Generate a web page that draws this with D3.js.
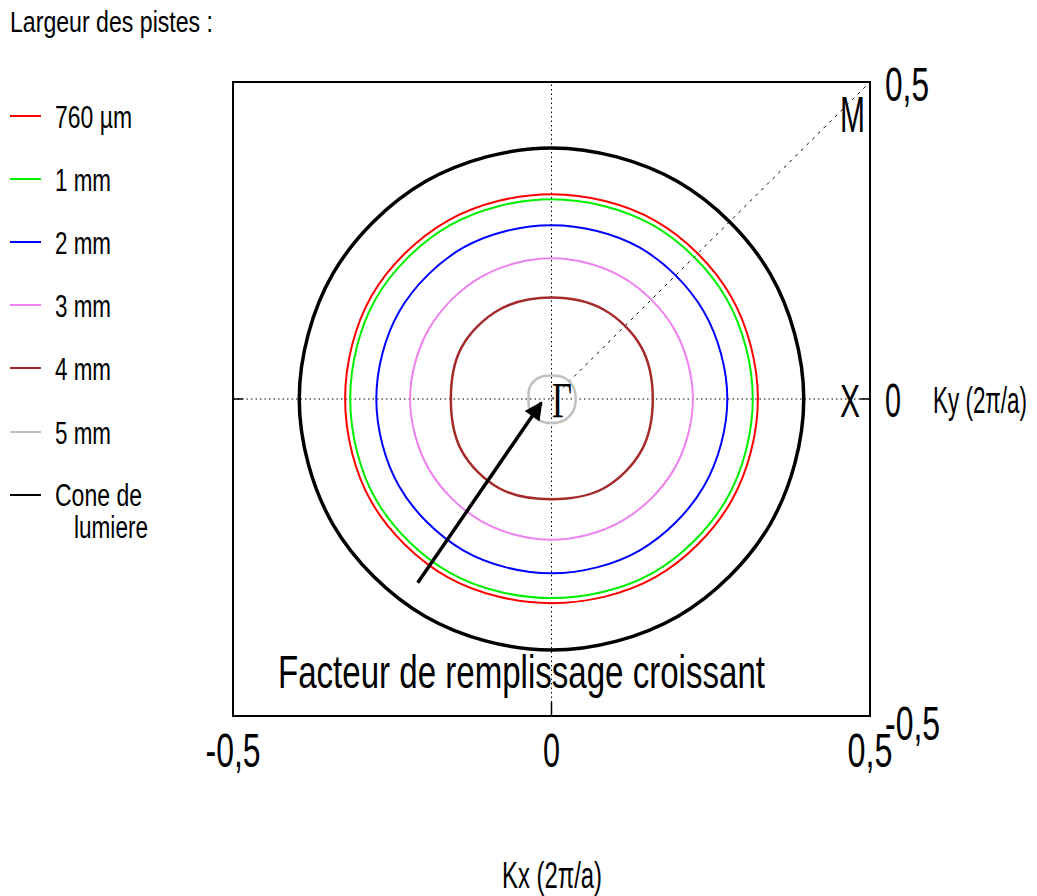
<!DOCTYPE html>
<html>
<head>
<meta charset="utf-8">
<script src="https://cdn.jsdelivr.net/npm/d3@7/dist/d3.min.js"></script>
<style>
  html, body { margin: 0; padding: 0; background: #fff; }
  svg { display: block; }
  text { font-family: "Liberation Sans", Arial, sans-serif; fill: #000; }
</style>
</head>
<body>
<svg id="chart" width="1037" height="896"></svg>
<script>
// Iso-frequency contours in the (Kx, Ky) plane, in units of 2π/a.
// Each contour: radius |k| sampled every 30° from 0° to 330°.
const angles = [0, 30, 60, 90, 120, 150, 180, 210, 240, 270, 300, 330];

const series = ["760 µm", "1 mm", "2 mm", "3 mm", "4 mm", "5 mm", "Cone de lumiere"];
const colors = ["#ff0000", "#00ee00", "#0000ff", "#ee82ee", "#a52a2a", "#c0c0c0", "#000000"];

const r760 = [0.324, 0.325, 0.325, 0.323, 0.325, 0.326, 0.324, 0.326, 0.325, 0.322, 0.325, 0.325];
const r1mm = [0.316, 0.317, 0.317, 0.315, 0.317, 0.318, 0.316, 0.318, 0.317, 0.314, 0.317, 0.317];
const r2mm = [0.276, 0.276, 0.276, 0.274, 0.276, 0.276, 0.275, 0.276, 0.276, 0.275, 0.276, 0.276];
const r3mm = [0.222, 0.222, 0.222, 0.222, 0.222, 0.222, 0.222, 0.222, 0.222, 0.222, 0.222, 0.222];
const r4mm = [0.159, 0.163, 0.163, 0.160, 0.163, 0.163, 0.158, 0.163, 0.163, 0.158, 0.163, 0.163];
const r5mm = [0.038, 0.039, 0.039, 0.037, 0.039, 0.039, 0.036, 0.039, 0.039, 0.038, 0.039, 0.039];
const rCone = [0.396, 0.396, 0.396, 0.396, 0.396, 0.396, 0.396, 0.396, 0.396, 0.396, 0.396, 0.396];
const radii = [r760, r1mm, r2mm, r3mm, r4mm, r5mm, rCone];

const tickValues = [-0.5, 0, 0.5];
const tickLabels = ["-0,5", "0", "0,5"];

const svg = d3.select("#chart");

const x = d3.scaleLinear().domain([-0.5, 0.5]).range([233, 870]);
const y = d3.scaleLinear().domain([-0.5, 0.5]).range([716, 82]);

// condensed text helper: fixed advance width via textLength
function label(g, str, px, py, size, width, anchor, family) {
  const t = g.append("text")
    .attr("x", px).attr("y", py)
    .attr("font-size", size)
    .attr("text-anchor", anchor || "start")
    .attr("textLength", width)
    .attr("lengthAdjust", "spacingAndGlyphs")
    .text(str);
  if (family) t.style("font-family", family);
  return t;
}

// symmetry lines: Γ-X axes and Γ-M diagonal
svg.append("line")
  .attr("x1", x(-0.5)).attr("x2", x(0.5)).attr("y1", y(0)).attr("y2", y(0))
  .attr("stroke", "#000").attr("stroke-width", 1).attr("stroke-dasharray", "1.5,3");
svg.append("line")
  .attr("x1", x(0)).attr("x2", x(0)).attr("y1", y(-0.5)).attr("y2", y(0.5))
  .attr("stroke", "#000").attr("stroke-width", 1).attr("stroke-dasharray", "1.5,3");
svg.append("line")
  .attr("x1", x(0)).attr("y1", y(0)).attr("x2", x(0.5)).attr("y2", y(0.5))
  .attr("stroke", "#000").attr("stroke-width", 1).attr("stroke-dasharray", "3,5");

// contours
const line = d3.line()
  .x(d => x(d[0]))
  .y(d => y(d[1]))
  .curve(d3.curveCatmullRomClosed.alpha(0.5));

const widths = [2, 2, 2, 2, 2.5, 2.5, 3.5];
series.forEach((name, i) => {
  const pts = angles.map((a, j) => {
    const t = a * Math.PI / 180;
    return [radii[i][j] * Math.cos(t), radii[i][j] * Math.sin(t)];
  });
  svg.append("path")
    .attr("d", line(pts))
    .attr("fill", "none")
    .attr("stroke", colors[i])
    .attr("stroke-width", widths[i]);
});

// frame
svg.append("rect")
  .attr("x", x(-0.5)).attr("y", y(0.5))
  .attr("width", x(0.5) - x(-0.5)).attr("height", y(-0.5) - y(0.5))
  .attr("fill", "none").attr("stroke", "#000").attr("stroke-width", 2);

// inward ticks at zero
svg.append("line").attr("x1", x(0)).attr("x2", x(0)).attr("y1", y(-0.5)).attr("y2", y(-0.5) - 14)
  .attr("stroke", "#000").attr("stroke-width", 1.5);
svg.append("line").attr("x1", x(0.5)).attr("x2", x(0.5) - 10).attr("y1", y(0)).attr("y2", y(0))
  .attr("stroke", "#000").attr("stroke-width", 1.5);
svg.append("line").attr("x1", x(-0.5)).attr("x2", x(-0.5) + 10).attr("y1", y(0)).attr("y2", y(0))
  .attr("stroke", "#000").attr("stroke-width", 1.5);

// tick labels
const gt = svg.append("g");
const xw = [55, 17, 45];
tickValues.forEach((v, i) => {
  label(gt, tickLabels[i], x(v), 767, 48, xw[i], "middle");
});
const yw = [55, 16, 44];
const yBase = [740, 417, 101];
tickValues.forEach((v, i) => {
  label(gt, tickLabels[i], 885, yBase[i], 48, yw[i], "start");
});

// axis titles
label(svg, "Kx (2π/a)", 502, 888, 36, 100, "start");
label(svg, "Ky (2π/a)", 933, 413, 36, 94, "start");

// symmetry point labels
label(svg, "M", 840, 132, 50, 25, "start");
label(svg, "X", 840, 417, 47, 20, "start");
label(svg, "Γ", 552, 417, 50, 20, "start", "'Liberation Serif', 'Times New Roman', serif");

// annotation arrow
svg.append("defs").append("marker")
  .attr("id", "head")
  .attr("viewBox", "0 0 10 10")
  .attr("refX", 9).attr("refY", 5)
  .attr("markerUnits", "userSpaceOnUse")
  .attr("markerWidth", 24).attr("markerHeight", 18)
  .attr("orient", "auto")
  .append("path").attr("d", "M0,0 L10,5 L0,10 Z").attr("fill", "#000");
svg.append("line")
  .attr("x1", x(-0.210)).attr("y1", y(-0.290))
  .attr("x2", x(-0.016)).attr("y2", y(-0.006))
  .attr("stroke", "#000").attr("stroke-width", 3.5)
  .attr("marker-end", "url(#head)");

label(svg, "Facteur de remplissage croissant", 278, 688, 46, 487, "start");

// legend
label(svg, "Largeur des pistes :", 10, 32, 30, 203, "start");
const legY = [116, 179, 242, 305, 368, 432, 495];
const legW = [77, 56, 56, 56, 56, 56, 87];
const lg = svg.append("g");
series.forEach((name, i) => {
  lg.append("line")
    .attr("x1", 10).attr("x2", 41).attr("y1", legY[i]).attr("y2", legY[i])
    .attr("stroke", colors[i]).attr("stroke-width", 2);
  if (i < series.length - 1) {
    label(lg, name, 55, legY[i] + 12, 31, legW[i], "start");
  } else {
    label(lg, "Cone de", 55, legY[i] + 11, 31, legW[i], "start");
    label(lg, "lumiere", 74, legY[i] + 43, 31, 74, "start");
  }
});
</script>
</body>
</html>
